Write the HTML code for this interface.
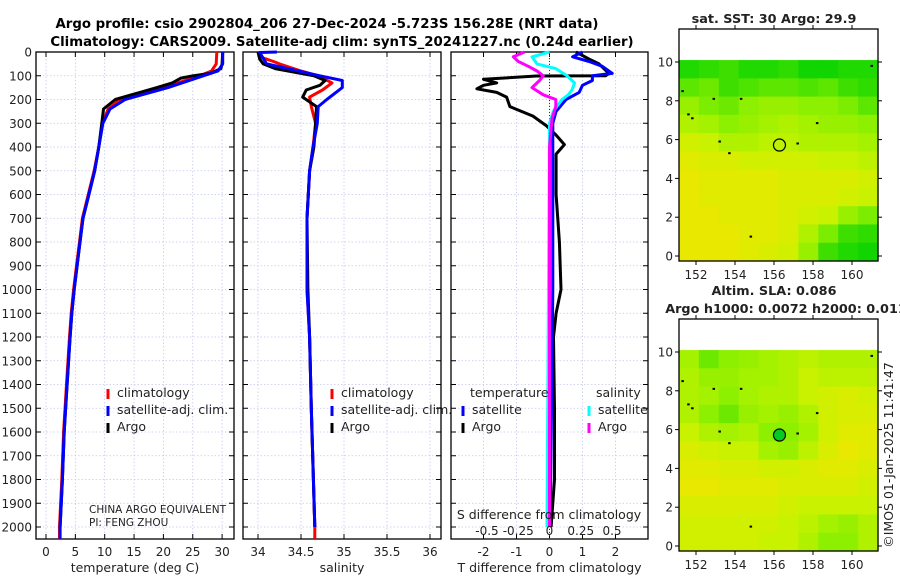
<!DOCTYPE html>
<html><head><meta charset="utf-8"><style>
html,body{margin:0;padding:0;background:#fff}
svg{display:block;font-family:"DejaVu Sans","Liberation Sans",sans-serif}
</style></head><body>
<svg id="fig" width="900" height="580" viewBox="0 0 900 580" xmlns="http://www.w3.org/2000/svg">
<text x="327" y="28" text-anchor="middle" font-size="13.3" font-weight="bold">Argo profile: csio 2902804_206 27-Dec-2024 -5.723S 156.28E (NRT data)</text>
<text x="342" y="46" text-anchor="middle" font-size="13.3" font-weight="bold">Climatology: CARS2009. Satellite-adj clim: synTS_20241227.nc (0.24d earlier)</text>
<g id="root"></g>
</svg>
<script>
// ---------- data ----------
const depthTicks=[0,100,200,300,400,500,600,700,800,900,1000,1100,1200,1300,1400,1500,1600,1700,1800,1900,2000];
const tempTicks=[0,5,10,15,20,25,30];
const salTicks=[34,34.5,35,35.5,36];
const salTickLabels=["34","34.5","35","35.5","36"];
const tdiffTicks=[-2,-1,0,1,2];
const sdiffTicks=[-0.5,-0.25,0,0.25,0.5];
const sdiffTickLabels=["-0.5","-0.25","0","0.25","0.5"];

const tArgoDepth=[0,50,70,90,100,110,130,150,170,200,240,300,400,500,600,700,800,900,1000,1100,1200,1400,1600,1800,2000];
const tArgo=[30.1,30.0,29.8,28,25,23,21.5,18.9,16,11.8,9.8,9.5,9.0,8.3,7.3,6.3,5.8,5.3,4.8,4.4,4.1,3.6,3.1,2.8,2.4];
const tClimDepth=[0,50,80,100,150,200,240,300,400,500,600,700,800,900,1000,1100,1200,1400,1600,1800,2000,2050];
const tClim=[29.1,29.0,28.2,26.2,20,12.6,10.6,9.6,9.0,8.2,7.2,6.2,5.7,5.2,4.7,4.3,4.0,3.5,3.0,2.7,2.3,2.3];
const tSat=[30.1,30.1,29.3,26.8,20.8,13.5,10.9,9.7,9.0,8.3,7.3,6.3,5.8,5.3,4.8,4.4,4.1,3.6,3.1,2.8,2.4,2.4];

const sArgoDepth=[0,30,50,70,90,100,120,140,160,190,210,230,300,400,500,700,1000,1200,1500,2000];
const sArgo=[34.0,34.02,34.06,34.2,34.5,34.65,34.78,34.72,34.56,34.52,34.6,34.68,34.67,34.65,34.6,34.57,34.58,34.6,34.62,34.66];
const sClimDepth=[0,20,40,50,80,100,130,160,190,230,300,400,500,700,1000,1200,1500,2000,2050];
const sClim=[34.02,34.02,34.18,34.25,34.5,34.7,34.86,34.75,34.6,34.62,34.67,34.64,34.6,34.57,34.57,34.6,34.62,34.66,34.66];
const sSatDepth=[0,2,50,100,120,150,200,230,300,400,500,700,1000,1200,1500,2000];
const sSat=[34.22,34.02,34.1,34.72,34.98,34.98,34.8,34.7,34.69,34.64,34.6,34.57,34.57,34.6,34.62,34.66];

const dTSatDepth=[0,20,40,60,90,100,120,140,170,200,250,300,400,1000,2000];
const dTSat=[1.0,0.7,1.2,1.6,1.9,1.3,1.3,1.0,0.9,0.5,0.2,0.1,0.1,0.1,0.02];
const dTArgoDepth=[0,30,50,90,100,101,115,130,140,155,170,190,230,270,310,350,390,430,600,800,1000,1100,1200,1500,1800,2000];
const dTArgo=[0.8,1.2,1.5,1.8,1.7,-0.4,-2.0,-1.6,-2.0,-2.2,-1.6,-1.3,-1.2,-0.5,-0.1,0.2,0.45,0.2,0.2,0.3,0.35,0.2,0.12,0.15,0.15,0.05];
const dSSatDepth=[0,20,50,70,100,130,160,180,200,250,300,2000];
const dSSat=[0.0,-0.14,-0.1,0.05,0.14,0.2,0.18,0.15,0.1,0.03,0.0,-0.02];
const dSArgoDepth=[0,20,40,60,80,100,120,150,180,200,230,280,400,2000];
const dSArgo=[-0.2,-0.29,-0.25,-0.17,-0.1,-0.05,-0.08,-0.14,-0.05,0.05,0.05,0.02,0.0,0.0];

const lonTicks=[152,154,156,158,160];
const latTicks=[0,2,4,6,8,10];
const argoLon=156.28, argoLat=5.72;
const sstGrid=[
[.1,.15,.2,.1,.1,.15,.05,.05,.1,.1],
[.3,.35,.2,.25,.3,.3,.25,.3,.2,.15],
[.5,.4,.35,.45,.5,.5,.45,.45,.4,.3],
[.6,.55,.45,.5,.55,.6,.55,.5,.5,.45],
[.75,.7,.6,.6,.65,.65,.6,.6,.6,.55],
[.85,.8,.8,.75,.75,.75,.75,.7,.7,.65],
[.9,.85,.85,.85,.85,.8,.8,.8,.8,.75],
[.9,.85,.85,.85,.85,.8,.8,.8,.75,.7],
[.9,.9,.85,.85,.85,.8,.75,.7,.5,.4],
[.9,.9,.9,.85,.85,.8,.6,.4,.2,.15],
[.9,.9,.9,.85,.8,.75,.5,.2,.1,.05]];
const slaGrid=[
[.55,.35,.45,.5,.55,.6,.65,.6,.6,.6],
[.6,.5,.5,.55,.55,.6,.7,.65,.65,.65],
[.6,.55,.45,.55,.6,.6,.7,.75,.8,.75],
[.6,.45,.35,.5,.55,.5,.6,.75,.8,.8],
[.7,.6,.55,.6,.45,.45,.55,.75,.85,.85],
[.8,.75,.7,.7,.55,.5,.65,.8,.9,.85],
[.85,.85,.8,.8,.75,.75,.8,.85,.85,.8],
[.9,.9,.85,.85,.85,.8,.8,.8,.8,.75],
[.8,.8,.8,.8,.8,.75,.7,.7,.7,.7],
[.75,.75,.75,.75,.75,.7,.65,.55,.5,.6],
[.75,.75,.75,.75,.7,.7,.6,.45,.45,.6]];
const islandLon=[151.3,152.9,151.6,151.8,153.2,153.7,154.3,157.2,158.2,161,154.8];
const islandLat=[8.5,8.1,7.3,7.1,5.9,5.3,8.1,5.8,6.85,9.8,1.0];

// ---------- helpers ----------
const NS="http://www.w3.org/2000/svg";
const root=document.getElementById('root');
function el(tag,attrs,parent){const e=document.createElementNS(NS,tag);for(const k in attrs)e.setAttribute(k,attrs[k]);(parent||root).appendChild(e);return e;}
function txt(x,y,s,size,anchor,parent){const t=el('text',{x:x,y:y,'font-size':size,'text-anchor':anchor||'middle',fill:'#222'},parent);t.textContent=s;return t;}

const top0=52, bot0=539;
const yD=d=>top0+d*0.2375;

function panel(name,x0,x1,xs,xticks,xlabels,xtitle){
  const g=el('g',{});
  
  
  xticks.forEach(v=>{el('line',{x1:xs(v),x2:xs(v),y1:top0,y2:bot0,stroke:'#c4c8ee','stroke-width':0.8,'stroke-dasharray':'1.5,2'},g);});
  depthTicks.forEach(d=>{el('line',{x1:x0,x2:x1,y1:yD(d),y2:yD(d),stroke:'#c4c8ee','stroke-width':0.8,'stroke-dasharray':'1.5,2'},g);
    el('line',{x1:x0,x2:x0+5,y1:yD(d),y2:yD(d),stroke:'#000'},g);el('line',{x1:x1-5,x2:x1,y1:yD(d),y2:yD(d),stroke:'#000'},g);});
  xticks.forEach((v,i)=>{el('line',{x1:xs(v),x2:xs(v),y1:top0,y2:top0+5,stroke:'#000'},g);el('line',{x1:xs(v),x2:xs(v),y1:bot0-5,y2:bot0,stroke:'#000'},g);
    if(xlabels){const t=txt(xs(v),556,xlabels[i],12,'middle',g);}});
  el('rect',{x:x0,y:top0,width:x1-x0,height:bot0-top0,fill:'none',stroke:'#000','stroke-width':1.3},g);
  const tt=txt((x0+x1)/2,572,xtitle,12.5,'middle',g);
  
  
  return g;
}
function line(g,xs,xv,dv,color,name,w){
  const pts=xv.map((v,i)=>xs(v).toFixed(1)+','+yD(dv[i]).toFixed(1)).join(' ');
  const p=el('polyline',{points:pts,fill:'none',stroke:color,'stroke-width':w||3,'stroke-linejoin':'round'},g);
  
  
}
function legend(g,x,y,color,label,name){
  const lg=el('g',{},g);
  
  
  el('line',{x1:x,x2:x,y1:y-8,y2:y+2,stroke:color,'stroke-width':3},lg);
  txt(x+9,y,label,12.5,'start',lg);
}

depthTicks.forEach(d=>{const t=txt(32,yD(d)+4.5,String(d),12,'end');});

const xT=v=>46+v*5.87;
const p1=panel('temperature-panel',36,234,xT,tempTicks,tempTicks.map(String),'temperature (deg C)');
line(p1,xT,tClim,tClimDepth,'#ff0000','temp-climatology-line');
line(p1,xT,tArgo,tArgoDepth,'#000','temp-argo-line');
line(p1,xT,tSat,tClimDepth,'#0000ff','temp-satellite-line');
legend(p1,108,397,'#ff0000','climatology','legend-climatology');
legend(p1,108,414,'#0000ff','satellite-adj. clim.','legend-satellite-adj');
legend(p1,108,431,'#000','Argo','legend-argo');
const c1=txt(89,513,'CHINA ARGO EQUIVALENT',10.5,'start',p1);
const c2=txt(89,526,'PI: FENG ZHOU',10.5,'start',p1);

const xS=v=>258+(v-34)*86;
const p2=panel('salinity-panel',243,441,xS,salTicks,salTickLabels,'salinity');
line(p2,xS,sClim,sClimDepth,'#ff0000','sal-climatology-line');
line(p2,xS,sArgo,sArgoDepth,'#000','sal-argo-line');
line(p2,xS,sSat,sSatDepth,'#0000ff','sal-satellite-line');
legend(p2,332,397,'#ff0000','climatology','legend-climatology');
legend(p2,332,414,'#0000ff','satellite-adj. clim.','legend-satellite-adj');
legend(p2,332,431,'#000','Argo','legend-argo');

const xdT=v=>549.5+v*33;
const xdS=v=>549.5+v*125;
const p3=panel('difference-panel',451,648,xdT,tdiffTicks,tdiffTicks.map(String),'T difference from climatology');
el('line',{x1:xdT(0),x2:xdT(0),y1:top0,y2:bot0,stroke:'#333','stroke-width':1,'stroke-dasharray':'1,2'},p3);
line(p3,xdT,dTArgo,dTArgoDepth,'#000','tdiff-argo-line');
line(p3,xdT,dTSat,dTSatDepth,'#0000ff','tdiff-satellite-line');
line(p3,xdS,dSSat,dSSatDepth,'#00ffff','sdiff-satellite-line');
line(p3,xdS,dSArgo,dSArgoDepth,'#ff00ff','sdiff-argo-line');
txt(470,397,'temperature',12.5,'start',p3);
txt(596,397,'salinity',12.5,'start',p3);
legend(p3,463,414,'#0000ff','satellite','legend-t-satellite');
legend(p3,463,431,'#000','Argo','legend-t-argo');
legend(p3,589,414,'#00ffff','satellite','legend-s-satellite');
legend(p3,589,431,'#ff00ff','Argo','legend-s-argo');
const st=txt(549,519,'S difference from climatology',12.5,'middle',p3);
sdiffTicks.forEach((v,i)=>{const t=txt(xdS(v),535,sdiffTickLabels[i],12,'middle',p3);});

function col(v){
  const stops=[[0,[0,210,0]],[0.45,[140,240,0]],[0.7,[200,242,0]],[0.9,[232,232,0]],[1,[242,220,0]]];
  for(let i=1;i<stops.length;i++){if(v<=stops[i][0]){const a=stops[i-1],b=stops[i];const t=(v-a[0])/(b[0]-a[0]);
    return 'rgb('+a[1].map((c,k)=>Math.round(c+(b[1][k]-c)*t)).join(',')+')';}}
  return 'rgb(242,220,0)';
}
function map(name,y0,y1,lat0y,grid,title1,title2,filled){
  const g=el('g',{});
  
  
  const x0=679,x1=878;
  const xl=lon=>696+(lon-152)*19.5;
  const yl=lat=>lat0y-lat*19.4;
  const gt=yl(10.1), gb=y1;
  const rows=grid.length, cols=grid[0].length;
  const cw=(x1-x0)/cols, ch=(gb-gt)/rows;
  grid.forEach((row,r)=>row.forEach((v,c)=>{
    const cell=el('rect',{x:(x0+c*cw).toFixed(2),y:(gt+r*ch).toFixed(2),width:(cw+0.6).toFixed(2),height:(ch+0.6).toFixed(2),fill:col(v)},g);
    
    
  }));
  islandLon.forEach((lo,i)=>{el('rect',{x:xl(lo)-1,y:yl(islandLat[i])-1,width:2.5,height:2,fill:'#000'},g);});
  el('rect',{x:x0,y:y0,width:x1-x0,height:y1-y0,fill:'none',stroke:'#000','stroke-width':1.3},g);
  lonTicks.forEach(v=>{el('line',{x1:xl(v),x2:xl(v),y1:y1,y2:y1+4,stroke:'#000'},g);el('line',{x1:xl(v),x2:xl(v),y1:y0-4,y2:y0,stroke:'#000'},g);
    const t=txt(xl(v),y1+18,String(v),12,'middle',g);});
  latTicks.forEach(v=>{el('line',{x1:x0-4,x2:x0,y1:yl(v),y2:yl(v),stroke:'#000'},g);el('line',{x1:x1,x2:x1+4,y1:yl(v),y2:yl(v),stroke:'#000'},g);
    const t=txt(673,yl(v)+4.5,String(v),12,'end',g);});
  const m=el('circle',{cx:xl(argoLon),cy:yl(argoLat),r:6,fill:filled?'#00cc22':'none',stroke:'#000','stroke-width':1.2},g);
  
  
  const t1=txt(774,y0-(title2?24:6),title1,12.8,'middle',g);t1.setAttribute('font-weight','bold');
  if(title2){const t2=txt(786,y0-6,title2,12.8,'middle',g);t2.setAttribute('font-weight','bold');}
}
map('sst-map',29,261,256,sstGrid,'sat. SST: 30 Argo: 29.9',null,false);
map('sla-map',319,551,546,slaGrid,'Altim. SLA: 0.086','Argo h1000: 0.0072 h2000: 0.011',true);

const cr=txt(0,0,'©IMOS 01-Jan-2025 11:41:47',12.5,'middle');
cr.setAttribute('transform','translate(893,455) rotate(-90)');


</script>
</body></html>
